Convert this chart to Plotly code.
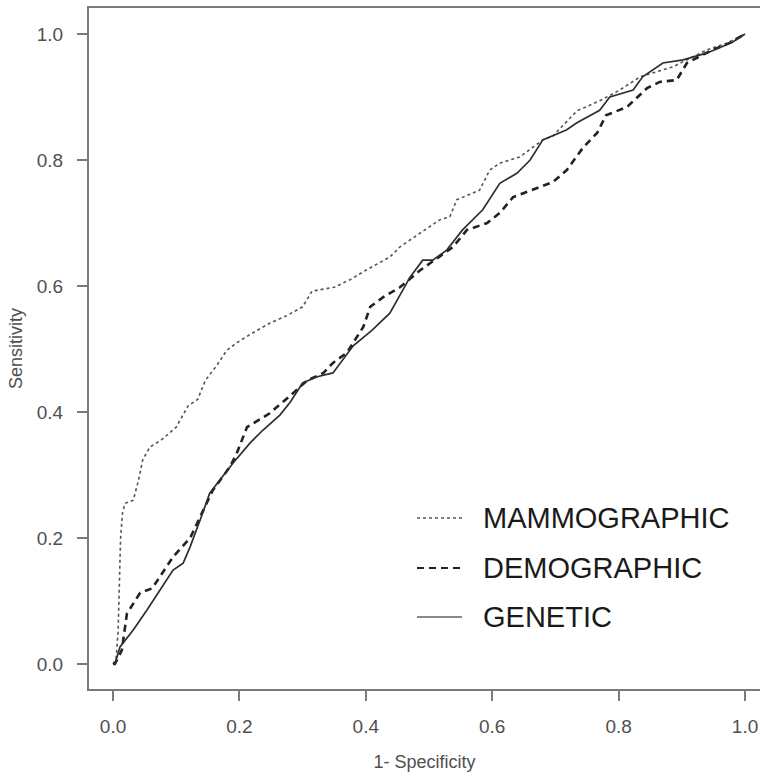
import plotly.graph_objects as go

# ---- data ----
mammo_fpr = [0, 0.005, 0.008, 0.010, 0.012, 0.015, 0.019, 0.032, 0.040, 0.047, 0.058, 0.077, 0.10, 0.119,
             0.134, 0.146, 0.165, 0.18, 0.196, 0.22, 0.248, 0.275, 0.30, 0.315, 0.332, 0.35, 0.375, 0.40,
             0.438, 0.454, 0.48, 0.517, 0.533, 0.544, 0.58, 0.596, 0.612, 0.644, 0.68, 0.696, 0.734, 0.77,
             0.80, 0.834, 0.886, 0.94, 0.97, 1.0]
mammo_tpr = [0, 0.01, 0.05, 0.12, 0.20, 0.24, 0.255, 0.26, 0.29, 0.324, 0.344, 0.356, 0.376, 0.41,
             0.42, 0.45, 0.475, 0.498, 0.51, 0.525, 0.541, 0.553, 0.567, 0.592, 0.595, 0.598, 0.61, 0.625,
             0.646, 0.662, 0.68, 0.705, 0.71, 0.737, 0.752, 0.784, 0.795, 0.805, 0.832, 0.838, 0.878, 0.894,
             0.91, 0.932, 0.948, 0.975, 0.985, 1.0]

demo_fpr = [0, 0.003, 0.008, 0.014, 0.022, 0.043, 0.062, 0.095, 0.122, 0.138, 0.158, 0.185, 0.196, 0.212,
            0.248, 0.285, 0.307, 0.333, 0.348, 0.37, 0.38, 0.396, 0.407, 0.427, 0.454, 0.486, 0.538, 0.56,
            0.592, 0.612, 0.633, 0.655, 0.675, 0.696, 0.718, 0.744, 0.766, 0.78, 0.813, 0.845, 0.865, 0.892,
            0.908, 0.949, 0.976, 1.0]
demo_tpr = [0, 0.0, 0.01, 0.022, 0.08, 0.113, 0.12, 0.17, 0.2, 0.233, 0.276, 0.313, 0.335, 0.376,
            0.398, 0.43, 0.45, 0.462, 0.478, 0.494, 0.51, 0.535, 0.567, 0.582, 0.598, 0.625, 0.662, 0.689,
            0.70, 0.716, 0.741, 0.749, 0.757, 0.765, 0.784, 0.82, 0.843, 0.871, 0.884, 0.914, 0.924, 0.927,
            0.954, 0.975, 0.986, 1.0]

gen_fpr = [0, 0.003, 0.011, 0.032, 0.054, 0.074, 0.095, 0.111, 0.122, 0.138, 0.153, 0.169, 0.19, 0.217,
           0.237, 0.264, 0.28, 0.30, 0.323, 0.348, 0.38, 0.41, 0.438, 0.47, 0.49, 0.506, 0.528, 0.553,
           0.585, 0.612, 0.639, 0.66, 0.68, 0.718, 0.734, 0.77, 0.786, 0.823, 0.838, 0.87, 0.902, 0.94,
           0.98, 1.0]
gen_tpr = [0, 0.0, 0.027, 0.054, 0.086, 0.117, 0.149, 0.16, 0.186, 0.229, 0.271, 0.292, 0.319, 0.351,
           0.371, 0.395, 0.415, 0.446, 0.456, 0.462, 0.505, 0.53, 0.557, 0.614, 0.641, 0.641, 0.657, 0.689,
           0.721, 0.763, 0.779, 0.80, 0.832, 0.848, 0.859, 0.879, 0.90, 0.911, 0.932, 0.954, 0.959, 0.97,
           0.987, 1.0]

series_names = ["MAMMOGRAPHIC", "DEMOGRAPHIC", "GENETIC"]
tick_vals = [0.0, 0.2, 0.4, 0.6, 0.8, 1.0]
tick_text = ["0.0", "0.2", "0.4", "0.6", "0.8", "1.0"]

# ---- styles ----
FONT = "Liberation Sans, Arial, sans-serif"
styles = [
    dict(color="#555555", width=1.6, dash="dot"),
    dict(color="#222222", width=2.6, dash="7px,5px"),
    dict(color="#2e2e2e", width=1.7, dash="solid"),
]
legend_styles = [
    dict(color="#555555", width=1.4, dash="dot"),
    dict(color="#222222", width=2.0, dash="7px,5px"),
    dict(color="#888888", width=2.2, dash="solid"),
]

fig = go.Figure()
for name, xs, ys, st in zip(series_names,
                            [mammo_fpr, demo_fpr, gen_fpr],
                            [mammo_tpr, demo_tpr, gen_tpr],
                            styles):
    fig.add_trace(go.Scatter(x=xs, y=ys, mode="lines", name=name, line=st, showlegend=False))

# manual legend (pixel layout converted to paper coords)
W, H = 760, 779
L, T, B = 89, 8, 90
pw, ph = W - L, H - T - B
def px(x):
    return (x - L) / pw
def py(y):
    return (H - B - y) / ph

legend_rows = [518, 568, 617]
for name, st, yy in zip(series_names, legend_styles, legend_rows):
    fig.add_shape(type="line", xref="paper", yref="paper",
                  x0=px(417), x1=px(462), y0=py(yy), y1=py(yy), line=st)
    fig.add_annotation(xref="paper", yref="paper", x=px(481), y=py(yy), text=name,
                       showarrow=False, xanchor="left", yanchor="middle",
                       font=dict(family=FONT, size=29, color="#1a1a1a"))

axis_common = dict(
    showgrid=False, zeroline=False, showline=True, linecolor="#7a7a7a", linewidth=2,
    ticks="outside", ticklen=10, tickwidth=1.5, tickcolor="#7a7a7a",
    tickvals=tick_vals, ticktext=tick_text,
    tickfont=dict(family=FONT, size=19, color="#505050"),
)

fig.update_layout(
    width=W, height=H,
    margin=dict(l=L, r=0, t=T, b=B, pad=0),
    paper_bgcolor="white", plot_bgcolor="white",
    xaxis=dict(axis_common, range=[-0.038, 1.0237], mirror=True, ticklabelstandoff=9,
               title=dict(text="1- Specificity", standoff=20,
                          font=dict(family=FONT, size=18, color="#505050"))),
    yaxis=dict(axis_common, range=[-0.0397, 1.0413], mirror=False, ticklabelstandoff=10,
               title=dict(text="Sensitivity", standoff=9,
                          font=dict(family=FONT, size=18, color="#505050"))),
)

fig.write_html("out.html")
